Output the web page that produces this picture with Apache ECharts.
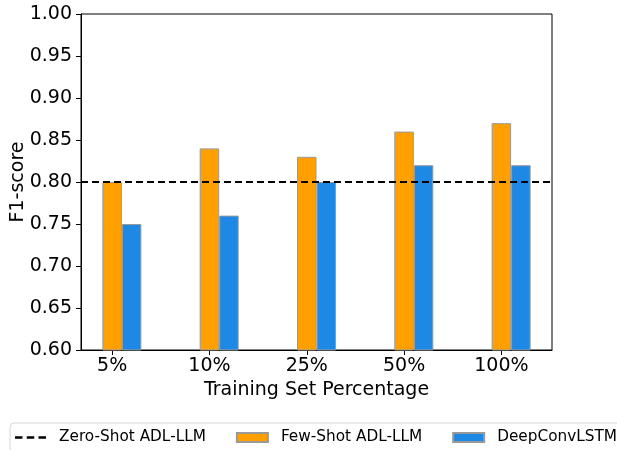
<!DOCTYPE html>
<html><head><meta charset="utf-8">
<script src="https://cdn.jsdelivr.net/npm/echarts@6/dist/echarts.min.js"></script>
<style>html,body{margin:0;padding:0;background:#fff}#c{width:617px;height:450px}</style>
</head><body><div id="c"></div>
<script>
const categories = ['5%', '10%', '25%', '50%', '100%'];
const fewShot = [0.80, 0.84, 0.83, 0.86, 0.87];
const deepConv = [0.75, 0.76, 0.80, 0.82, 0.82];
const zeroShot = 0.80;
const yTicks = [0.60, 0.65, 0.70, 0.75, 0.80, 0.85, 0.90, 0.95, 1.00];

const FONT = 'DejaVu Sans';
const labelPos = categories.map((c, i) => i - 0.1);
const chart = echarts.init(document.getElementById('c'), null, {renderer: 'canvas'});
chart.setOption({
  animation: false,
  textStyle: {fontFamily: FONT},
  grid: {left: 81, top: 14, right: 65, bottom: 100, show: true, borderColor: '#000', borderWidth: 1,
    containLabel: false, outerBoundsMode: 'none'},
  xAxis: {
    type: 'value', min: -0.42, max: 4.42,
    name: 'Training Set Percentage', nameLocation: 'middle', nameGap: 28,
    nameTextStyle: {fontSize: 19, color: '#000', fontFamily: FONT},
    axisLine: {show: true, onZero: false, lineStyle: {color: '#000', width: 1}},
    axisTick: {show: true, length: 5, lineStyle: {color: '#000'}, customValues: labelPos},
    axisLabel: {fontSize: 19, color: '#000', margin: 7, customValues: labelPos,
      formatter: v => categories[Math.round(v + 0.1)]},
    splitLine: {show: false}
  },
  yAxis: {
    type: 'value', min: yTicks[0], max: yTicks[yTicks.length - 1], interval: 0.05,
    name: 'F1-score', nameLocation: 'middle', nameGap: 53, nameMoveOverlap: false,
    nameTextStyle: {fontSize: 19, color: '#000', fontFamily: FONT},
    axisLine: {show: true, onZero: false, lineStyle: {color: '#000', width: 1}},
    axisTick: {show: true, length: 5, lineStyle: {color: '#000'}},
    axisLabel: {fontSize: 19, color: '#000', margin: 9, formatter: v => v.toFixed(2)},
    splitLine: {show: false}
  },
  legend: {
    left: 10, top: 423, width: 900, orient: 'horizontal',
    padding: [7, 10, 8, 5],
    borderColor: '#d6d6d6', borderWidth: 1, borderRadius: 4,
    itemWidth: 31, itemHeight: 9, itemGap: 30,
    textStyle: {fontSize: 15.3, color: '#000', fontFamily: FONT, padding: [0, 0, 0, 8]},
    data: [
      {name: 'Zero-Shot ADL-LLM', icon: 'path://M0,0H7V2.4H0ZM11,0H18V2.4H11ZM22,0H29V2.4H22Z',
        itemStyle: {color: '#000', borderWidth: 0}},
      {name: 'Few-Shot ADL-LLM', icon: 'rect'},
      {name: 'DeepConvLSTM', icon: 'rect'}
    ]
  },
  series: [
    {
      name: 'Zero-Shot ADL-LLM', type: 'line', data: [], symbol: 'none',
      itemStyle: {color: '#000'},
      lineStyle: {color: '#000', type: 'dashed', width: 2},
      markLine: {silent: true, symbol: 'none', label: {show: false},
        lineStyle: {color: '#000', type: [7, 4], width: 2},
        data: [{yAxis: zeroShot}]}
    },
    {
      name: 'Few-Shot ADL-LLM', type: 'bar', barWidth: 19.5, barGap: '0%',
      itemStyle: {color: '#FFA000', borderColor: '#999', borderWidth: 1},
      data: fewShot.map((v, i) => [i, v])
    },
    {
      name: 'DeepConvLSTM', type: 'bar', barWidth: 19.5, barGap: '0%',
      itemStyle: {color: '#1E88E5', borderColor: '#999', borderWidth: 1},
      data: deepConv.map((v, i) => [i, v])
    }
  ]
});
</script></body></html>
